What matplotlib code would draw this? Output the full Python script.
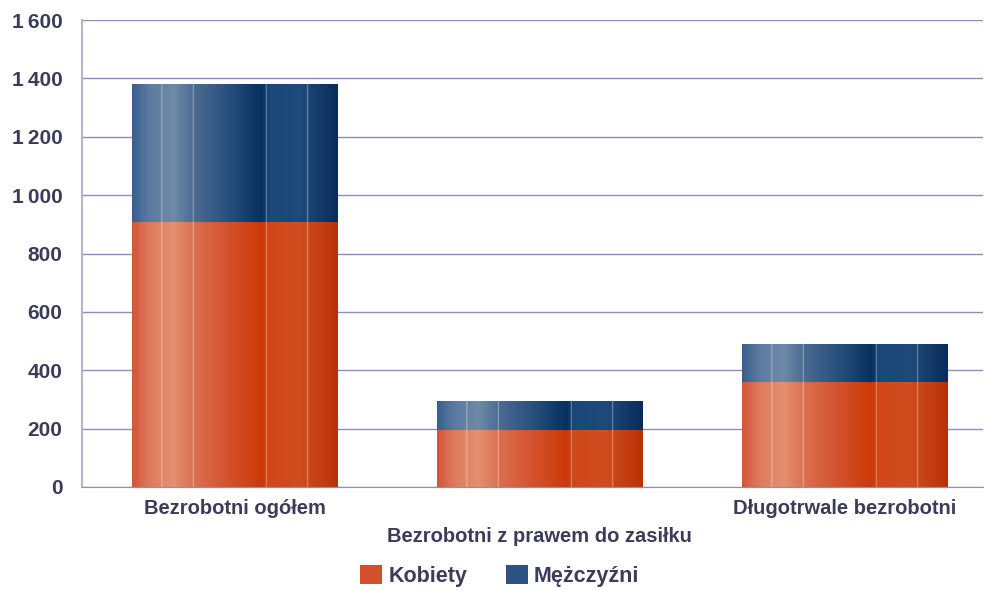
import matplotlib.pyplot as plt
import matplotlib as mpl
import numpy as np
from matplotlib.colors import LinearSegmentedColormap, to_rgb
from matplotlib.patches import Patch
from matplotlib.ticker import FuncFormatter

categories = ["Bezrobotni ogółem", "Bezrobotni z prawem do zasiłku", "Długotrwale bezrobotni"]
kobiety = [908, 195, 360]
mezczyzni = [472, 96, 130]
series_names = ["Kobiety", "Mężczyźni"]

text_color = "#3b3c58"
grid_color = "#8e8ebd"

plt.rcParams['font.family'] = ['Liberation Sans', 'DejaVu Sans']
plt.rcParams['font.weight'] = 'bold'

# horizontal shading profiles (position, colour) for each series
orange_profile = [(0.0, "#d4553a"), (0.08, "#df7a5c"), (0.2, "#e4906f"), (0.3, "#db7050"),
                  (0.45, "#d45530"), (0.63, "#cc3906"), (0.67, "#d0481a"), (0.82, "#d14c1e"),
                  (1.0, "#b83206")]
blue_profile = [(0.0, "#3a5f8e"), (0.08, "#5a7aa0"), (0.2, "#6f8aa8"), (0.3, "#4b6b92"),
                (0.48, "#264e7b"), (0.63, "#06305f"), (0.67, "#1a4877"), (0.82, "#1e4b79"),
                (1.0, "#0a2c5b")]
stripe_pos = [0.145, 0.296, 0.65, 0.85]


def gradient_image(profile, n=400):
  cmap = LinearSegmentedColormap.from_list("g", [(p, to_rgb(c)) for p, c in profile])
  xs = np.linspace(0, 1, n)
  row = cmap(xs)[:, :3]
  for s in stripe_pos:
    i = int(s * n)
    row[i:i + 2] = row[i:i + 2] * 0.6 + 0.4
  return row[np.newaxis, :, :]


fig = plt.figure(figsize=(9.84, 5.91), dpi=100)
ax = fig.add_axes((0.0833, 0.176, 0.916, 0.790))

x = np.arange(len(categories))
width = 0.672
bars_k = ax.bar(x, kobiety, width, color="none", label=series_names[0])
bars_m = ax.bar(x, mezczyzni, width, bottom=kobiety, color="none", label=series_names[1])

for bars, profile in ((bars_k, orange_profile), (bars_m, blue_profile)):
  img = gradient_image(profile)
  for b in bars:
    x0, y0 = b.get_x(), b.get_y()
    ax.imshow(img, extent=(x0, x0 + b.get_width(), y0, y0 + b.get_height()),
              aspect="auto", zorder=2, interpolation="bilinear")

ax.set_xlim(-0.5, 2.454)
ax.set_ylim(0, 1600)
ax.set_yticks(np.arange(0, 1601, 200))
ax.yaxis.set_major_formatter(FuncFormatter(lambda v, p: f"{v:,.0f}".replace(",", "\u2009")))
ax.set_axisbelow(True)
ax.grid(axis="y", color=grid_color, linewidth=1.0)

for side in ("top", "right"):
  ax.spines[side].set_visible(False)
ax.spines["left"].set_color("#b4b6cc")
ax.spines["left"].set_linewidth(1.5)
ax.spines["bottom"].set_color(grid_color)

ax.tick_params(axis="y", length=0, pad=14, labelsize=15, labelcolor=text_color)
ax.tick_params(axis="x", length=0, pad=9, labelsize=14.5, labelcolor=text_color)
ax.set_xticks(x)
ax.set_xticklabels(categories)
ax.xaxis.get_major_ticks()[1].set_pad(29)

handles = [Patch(facecolor="#d4502a", edgecolor="none"), Patch(facecolor="#2a5282", edgecolor="none")]
fig.legend(handles, series_names, loc="center", bbox_to_anchor=(0.508, 0.025), ncol=2, frameon=False,
           fontsize=15.5, labelcolor=text_color, handlelength=1.0, handleheight=0.95,
           handletextpad=0.3, columnspacing=1.8)

fig.savefig("out.png")
